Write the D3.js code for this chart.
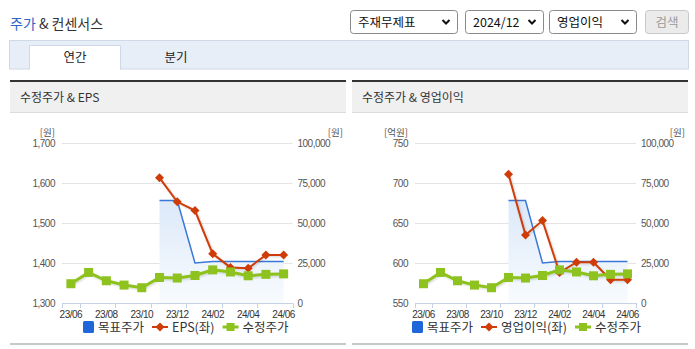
<!DOCTYPE html>
<html><head><meta charset="utf-8">
<script src="https://cdn.jsdelivr.net/npm/d3@7"></script>
<style>
html,body{margin:0;padding:0;background:#fff;}
svg{display:block;}
</style></head>
<body><svg id="c" width="695" height="349"></svg>
<script>
// ---- data ----
const months = ["23/06","23/07","23/08","23/09","23/10","23/11","23/12","24/01","24/02","24/03","24/04","24/05","24/06"];
const xTickLabels = ["23/06","23/08","23/10","23/12","24/02","24/04","24/06"];
const adjPrice = [12050, 19100, 13900, 11200, 9550, 15950, 15600, 17200, 20700, 19400, 17000, 17900, 18200];
const targetPrice = [null, null, null, null, null, 64000, 64000, 25000, 26000, 26000, 26000, 26000, 26000];
const eps = [null, null, null, null, null, 1613, 1553, 1531, 1423, 1389, 1387, 1420, 1420];
const opProfit = [null, null, null, null, null, 711, 635, 653, 588, 601, 601, 579, 579];
const epsTicks = [1300, 1400, 1500, 1600, 1700];
const opTicks = [550, 600, 650, 700, 750];
const priceTicks = [0, 25000, 50000, 75000, 100000];
const selectLabels = ["주재무제표", "2024/12", "영업이익"];
const tabLabels = ["연간", "분기"];

const KR = "'Noto Sans CJK KR','Noto Sans',sans-serif";
const NUM = "'Liberation Sans',Arial,sans-serif";
const BLUE = "#3a78d8", BLUE_SQ = "#1f67d8", RED = "#cf3c08", GREEN = "#8dc21f";

const svg = d3.select("#c");
const defs = svg.append("defs");
const grad = defs.append("linearGradient").attr("id","areaGrad").attr("x1",0).attr("y1",0).attr("x2",0).attr("y2",1);
grad.append("stop").attr("offset","0%").attr("stop-color","#dce9f9");
grad.append("stop").attr("offset","100%").attr("stop-color","#f8fbfe");
const sh = defs.append("filter").attr("id","shadow").attr("x","-10%").attr("y","-10%").attr("width","130%").attr("height","130%");
sh.append("feDropShadow").attr("dx",1).attr("dy",1).attr("stdDeviation",0.8).attr("flood-color","#000").attr("flood-opacity",0.18);

// ---- header ----
const title = svg.append("text").attr("x",10).attr("y",29).style("font-family",KR).style("font-size","14px");
title.append("tspan").attr("fill","#2a63c9").text("주가");
title.append("tspan").attr("fill","#333").text(" & 컨센서스");

const selBoxes = [[350,457],[465,543],[549,636]];
selBoxes.forEach((b,i)=>{
  svg.append("rect").attr("x",b[0]+0.5).attr("y",10.5).attr("width",b[1]-b[0]).attr("height",23).attr("rx",3)
    .attr("fill","#fff").attr("stroke","#8a8a8a");
  svg.append("text").attr("x",b[0]+8).attr("y",26.5).attr("fill","#111").style("font-family",KR).style("font-size","12.5px").text(selectLabels[i]);
  const cx = b[1]-11, cy = 22;
  svg.append("path").attr("d",`M${cx-3.5},${cy-2} L${cx},${cy+1.5} L${cx+3.5},${cy-2}`).attr("fill","none").attr("stroke","#111").attr("stroke-width",2);
});
svg.append("rect").attr("x",645.5).attr("y",10.5).attr("width",43).attr("height",23).attr("rx",3).attr("fill","#ebebeb").attr("stroke","#c8c8c8");
svg.append("text").attr("x",667).attr("y",26.5).attr("text-anchor","middle").attr("fill","#9a9a9a").style("font-family",KR).style("font-size","12.5px").text("검색");

// tabs
svg.append("rect").attr("x",9.5).attr("y",40.5).attr("width",679).attr("height",28.5).attr("fill","#e8eef8").attr("stroke","#cfd8e6");
svg.append("path").attr("d","M29.5,69.5 V45.5 H120.5 V69.5").attr("fill","#fff").attr("stroke","#cfd8e6");
svg.append("rect").attr("x",30).attr("y",46).attr("width",90).attr("height",24).attr("fill","#fff");
svg.append("text").attr("x",75).attr("y",61.5).attr("text-anchor","middle").attr("fill","#222").style("font-family",KR).style("font-size","12.5px").text(tabLabels[0]);
svg.append("text").attr("x",176).attr("y",61.5).attr("text-anchor","middle").attr("fill","#222").style("font-family",KR).style("font-size","12.5px").text(tabLabels[1]);

// ---- chart panels ----
function panel(cfg){
  const g = svg.append("g");
  g.append("rect").attr("x",cfg.px0).attr("y",82).attr("width",cfg.px1-cfg.px0).attr("height",30).attr("fill","#f0f0f0");
  g.append("rect").attr("x",cfg.px0).attr("y",80).attr("width",cfg.px1-cfg.px0).attr("height",2).attr("fill","#333");
  g.append("rect").attr("x",cfg.px0).attr("y",112).attr("width",cfg.px1-cfg.px0).attr("height",1).attr("fill","#dcdcdc");
  g.append("rect").attr("x",cfg.px0).attr("y",343).attr("width",cfg.px1-cfg.px0).attr("height",2).attr("fill","#c9c9c9");
  g.append("text").attr("x",cfg.px0+10).attr("y",102).attr("fill","#333").style("font-family",KR).style("font-size","12px").text(cfg.title);

  const top = 143, bottom = 303;
  const x = d3.scaleBand().domain(months).range([cfg.x0, cfg.x1]).padding(0);
  const xc = d => x(d) + x.bandwidth()/2;
  const yL = d3.scaleLinear().domain(cfg.leftDomain).range([bottom, top]);
  const yR = d3.scaleLinear().domain([0,100000]).range([bottom, top]);

  g.append("g").selectAll("line").data(cfg.leftTicks.slice(1)).join("line")
    .attr("x1",cfg.x0).attr("x2",cfg.x1).attr("y1",d=>Math.round(yL(d))+0.5).attr("y2",d=>Math.round(yL(d))+0.5)
    .attr("stroke","#e3e3e3");

  const fmt = d3.format(",");
  const numStyle = sel => sel.style("font-family",NUM).style("font-size","10px").style("letter-spacing","-0.5px");
  g.append("g").selectAll("text").data(cfg.leftTicks).join("text")
    .attr("x",cfg.x0-7).attr("y",d=>yL(d)+4).attr("text-anchor","end").attr("fill","#555")
    .call(numStyle).text(d=>fmt(d));
  g.append("g").selectAll("text").data(priceTicks).join("text")
    .attr("x",cfg.x1+5).attr("y",d=>yR(d)+4).attr("text-anchor","start").attr("fill","#555")
    .call(numStyle).text(d=>fmt(d));
  g.append("text").attr("x",cfg.x0-7).attr("y",136).attr("text-anchor","end").attr("fill","#555").style("font-family",KR).style("font-size","9.5px").text(cfg.leftUnit);
  g.append("text").attr("x",cfg.px1-3).attr("y",136).attr("text-anchor","end").attr("fill","#555").style("font-family",KR).style("font-size","9.5px").text("[원]");

  g.append("line").attr("x1",cfg.x0).attr("x2",cfg.x1).attr("y1",bottom+0.5).attr("y2",bottom+0.5).attr("stroke","#c6d2e4");
  const tickIdx = [0,1,3,5,7,9,11,13];
  g.append("g").selectAll("line").data(tickIdx).join("line")
    .attr("x1",d=>Math.round(cfg.x0 + d*x.bandwidth())+0.5).attr("x2",d=>Math.round(cfg.x0 + d*x.bandwidth())+0.5)
    .attr("y1",bottom).attr("y2",bottom+5).attr("stroke","#c6d2e4");
  g.append("g").selectAll("text").data(xTickLabels).join("text")
    .attr("x",d=>xc(d)).attr("y",bottom+14.5).attr("text-anchor","middle").attr("fill","#333")
    .call(numStyle).text(d=>d);

  const tData = months.map((m,i)=>({m, v:targetPrice[i]}));
  const area = d3.area().defined(d=>d.v!=null).x(d=>xc(d.m)).y0(bottom).y1(d=>yR(d.v));
  g.append("path").datum(tData).attr("d",area).attr("fill","url(#areaGrad)");
  const tLine = d3.line().defined(d=>d.v!=null).x(d=>xc(d.m)).y(d=>yR(d.v));
  g.append("path").datum(tData).attr("d",tLine).attr("fill","none").attr("stroke",BLUE).attr("stroke-width",1.5);

  const lData = months.map((m,i)=>({m, v:cfg.leftSeries[i]}));
  const lLine = d3.line().defined(d=>d.v!=null).x(d=>xc(d.m)).y(d=>yL(d.v));
  g.append("path").datum(lData).attr("d",lLine).attr("fill","none").attr("stroke",RED).attr("stroke-width",2).attr("filter","url(#shadow)");
  g.append("g").selectAll("path").data(lData.filter(d=>d.v!=null)).join("path")
    .attr("d","M0,-4.5 L4.5,0 L0,4.5 L-4.5,0Z").attr("transform",d=>`translate(${xc(d.m)},${yL(d.v)})`).attr("fill",RED);

  const pData = months.map((m,i)=>({m, v:adjPrice[i]}));
  const pLine = d3.line().x(d=>xc(d.m)).y(d=>yR(d.v));
  g.append("path").datum(pData).attr("d",pLine).attr("fill","none").attr("stroke",GREEN).attr("stroke-width",3).attr("filter","url(#shadow)");
  g.append("g").selectAll("rect").data(pData).join("rect")
    .attr("x",d=>xc(d.m)-4.5).attr("y",d=>yR(d.v)-4.5).attr("width",9).attr("height",9).attr("fill",GREEN);

  const lg = g.append("g");
  const items = [
    {type:"sq", label:"목표주가"},
    {type:"dia", label:cfg.leftName},
    {type:"gsq", label:"수정주가"}
  ];
  let cx = 0;
  const ly = 327;
  items.forEach(it=>{
    const sw = it.type==="sq" ? 11 : 16;
    const ig = lg.append("g").attr("transform",`translate(${cx},0)`);
    if(it.type==="sq"){
      ig.append("rect").attr("x",0).attr("y",ly-6).attr("width",11).attr("height",12).attr("rx",1.5).attr("fill",BLUE_SQ);
    } else if(it.type==="dia"){
      ig.append("line").attr("x1",0).attr("x2",16).attr("y1",ly).attr("y2",ly).attr("stroke",RED).attr("stroke-width",2);
      ig.append("path").attr("d","M0,-4.5 L4.5,0 L0,4.5 L-4.5,0Z").attr("transform",`translate(8,${ly})`).attr("fill",RED);
    } else {
      ig.append("line").attr("x1",0).attr("x2",16).attr("y1",ly).attr("y2",ly).attr("stroke",GREEN).attr("stroke-width",3);
      ig.append("rect").attr("x",4).attr("y",ly-4).attr("width",8).attr("height",8).attr("fill",GREEN);
    }
    const t = ig.append("text").attr("x",sw+4).attr("y",ly+4.5).attr("fill","#333").style("font-family",KR).style("font-size","12.5px").text(it.label);
    const w = t.node().getComputedTextLength();
    cx += sw + 4 + w + 8;
  });
  lg.attr("transform",`translate(${cfg.legendStart},0)`);
}

panel({px0:10, px1:346, x0:62, x1:292.5, title:"수정주가 & EPS", leftDomain:[1300,1700], leftTicks:epsTicks,
  leftUnit:"[원]", leftSeries:eps, leftName:"EPS(좌)", legendStart:83});
panel({px0:352, px1:688, x0:415, x1:636, title:"수정주가 & 영업이익", leftDomain:[550,750], leftTicks:opTicks,
  leftUnit:"[억원]", leftSeries:opProfit, leftName:"영업이익(좌)", legendStart:412});
</script></body></html>
